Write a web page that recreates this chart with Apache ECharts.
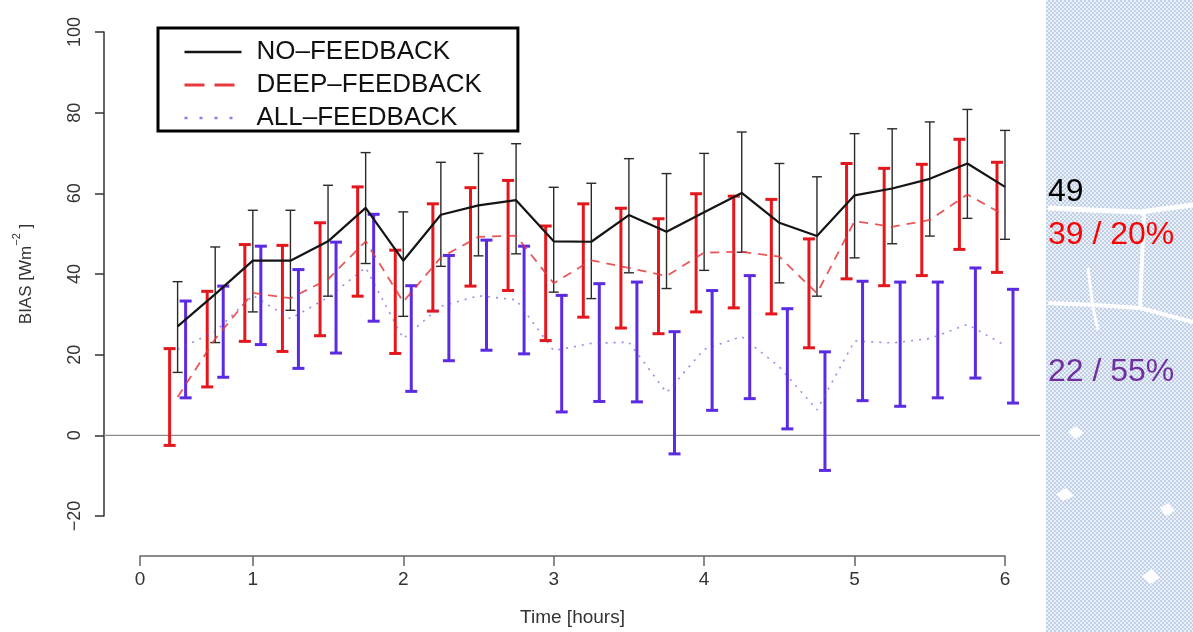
<!DOCTYPE html>
<html>
<head>
<meta charset="utf-8">
<script src="https://cdn.jsdelivr.net/npm/echarts@6/dist/echarts.min.js"></script>
<style>
  html, body { margin: 0; padding: 0; background: #fff; }
  #chart { width: 1193px; height: 632px; }
</style>
</head>
<body>
<div id="chart"></div>
<script>
// Forecast time (hours) of each verification step
const times = [0.5, 0.75, 1, 1.25, 1.5, 1.75, 2, 2.25, 2.5, 2.75, 3, 3.25, 3.5, 3.75, 4, 4.25, 4.5, 4.75, 5, 5.25, 5.5, 5.75, 6];

// NO-FEEDBACK: mean bias and spread
const noFeedbackMean = [27.0, 35.0, 43.3, 43.3, 48.1, 56.4, 43.3, 54.7, 57.0, 58.3, 48.1, 48.0, 54.6, 50.5, 55.3, 60.1, 52.7, 49.4, 59.5, 61.2, 63.6, 67.4, 61.6];
const noFeedbackLow  = [15.6, 23.0, 30.6, 31.0, 34.5, 42.6, 29.5, 41.9, 44.5, 45.0, 35.5, 33.9, 40.3, 36.4, 40.9, 45.4, 37.8, 34.5, 44.0, 47.5, 49.4, 53.8, 48.6];
const noFeedbackHigh = [38.1, 46.7, 55.8, 55.8, 62.0, 70.1, 55.4, 67.7, 69.9, 72.3, 61.5, 62.5, 68.6, 64.9, 69.9, 75.2, 67.4, 64.1, 74.8, 76.0, 77.7, 80.8, 75.6];

// DEEP-FEEDBACK
const deepMean = [9.5, 23.9, 35.3, 34.0, 38.7, 48.1, 33.1, 44.1, 49.2, 49.5, 37.7, 43.4, 41.5, 39.5, 45.3, 45.5, 44.3, 35.2, 53.1, 51.7, 53.4, 59.7, 54.5];
const deepLow  = [-2.5, 12.0, 23.3, 20.8, 24.7, 34.5, 20.3, 30.8, 37.0, 35.9, 23.5, 29.3, 26.6, 25.2, 30.6, 31.6, 30.1, 21.7, 38.8, 37.1, 39.6, 46.1, 40.4];
const deepHigh = [21.5, 35.7, 47.3, 47.1, 52.7, 61.6, 45.9, 57.4, 61.4, 63.2, 51.9, 57.4, 56.3, 53.7, 59.9, 59.3, 58.5, 48.7, 67.4, 66.2, 67.2, 73.4, 67.7];

// ALL-FEEDBACK
const allMean = [21.3, 25.7, 34.7, 28.9, 34.2, 41.6, 24.0, 32.0, 34.6, 33.6, 21.0, 22.8, 23.1, 10.6, 21.3, 24.5, 17.0, 6.3, 23.4, 22.9, 24.0, 27.5, 22.3];
const allLow  = [9.3, 14.4, 22.5, 16.6, 20.4, 28.3, 10.9, 18.5, 21.1, 20.2, 5.8, 8.4, 8.3, -4.6, 6.2, 9.1, 1.6, -8.7, 8.6, 7.2, 9.3, 14.2, 8.0];
const allHigh = [33.3, 37.0, 46.9, 41.1, 47.9, 54.8, 37.1, 44.6, 48.4, 46.9, 34.7, 37.6, 38.0, 25.7, 35.9, 39.6, 31.4, 20.7, 38.2, 38.0, 38.0, 41.5, 36.2];

// Axis ticks
const xTickPositions = [0.25, 1, 2, 3, 4, 5, 6];
const xTickLabels = ['0', '1', '2', '3', '4', '5', '6'];
const yTicks = [-20, 0, 20, 40, 60, 80, 100];

// Series names and side summary
const seriesNames = ['NO\u2013FEEDBACK', 'DEEP\u2013FEEDBACK', 'ALL\u2013FEEDBACK'];
const summaryTexts = ['49', '39 / 20%', '22 / 55%'];
const zeroLine = [[0, 0], [1, 0]];

const FONT = '"Liberation Sans", Arial, Helvetica, sans-serif';

function zip3(a, b, c) { return a.map((v, i) => [v, b[i], c[i]]); }
function zip2(a, b) { return a.map((v, i) => [v, b[i]]); }

// Vertical error bar with caps; dx shifts the bar sideways so the three sets don't overlap
function errorBar(color, width, cap, dx) {
  return function (params, api) {
    const x = api.value(0);
    const top = api.coord([x, api.value(2)]);
    const bot = api.coord([x, api.value(1)]);
    const px = top[0] + dx;
    const style = { stroke: color, lineWidth: width, fill: null };
    return {
      type: 'group',
      children: [
        { type: 'line', shape: { x1: px, y1: top[1], x2: px, y2: bot[1] }, style },
        { type: 'line', shape: { x1: px - cap, y1: top[1], x2: px + cap, y2: top[1] }, style },
        { type: 'line', shape: { x1: px - cap, y1: bot[1], x2: px + cap, y2: bot[1] }, style }
      ]
    };
  };
}

// Light blue dotted texture for the side panel
const pat = document.createElement('canvas');
pat.width = 4; pat.height = 4;
(function () {
  const c = pat.getContext('2d');
  c.fillStyle = '#ebf0f8';
  c.fillRect(0, 0, 4, 4);
  c.fillStyle = '#bfd0e7';
  c.fillRect(0, 0, 2, 2);
  c.fillRect(2, 2, 2, 2);
})();

const chart = echarts.init(document.getElementById('chart'), null, { renderer: 'canvas' });

const COLORS = { black: '#141414', red: '#e3171c', blue: '#5a2be2', purple: '#7030a0' };

const option = {
  animation: false,
  backgroundColor: '#ffffff',
  grid: [
    { left: 140, right: 188, top: 32, bottom: 116 },
    { left: 104, right: 153, top: 32, bottom: 116 }
  ],
  xAxis: [
    {
      type: 'value', gridIndex: 0, min: 0.25, max: 6, offset: 40,
      splitLine: { show: false },
      axisLine: { show: true, onZero: false, lineStyle: { color: '#666', width: 1.5 } },
      axisTick: { show: true, length: 10, customValues: xTickPositions, lineStyle: { color: '#666', width: 1.5 } },
      axisLabel: {
        customValues: xTickPositions, margin: 14, color: '#333', fontSize: 19, fontFamily: FONT,
        formatter: v => xTickLabels[xTickPositions.indexOf(v)]
      },
      name: 'Time [hours]', nameLocation: 'middle', nameGap: 52,
      nameTextStyle: { color: '#333', fontSize: 19, fontFamily: FONT }
    },
    { type: 'value', gridIndex: 1, min: 0, max: 1, show: false }
  ],
  yAxis: [
    {
      type: 'value', gridIndex: 0, min: -20, max: 100, interval: 20, offset: 36,
      splitLine: { show: false },
      axisLine: { show: true, onZero: false, lineStyle: { color: '#333', width: 1.5 } },
      axisTick: { show: true, length: 9, lineStyle: { color: '#333', width: 1.5 } },
      axisLabel: {
        rotate: 90, margin: 20, color: '#333', fontSize: 18, fontFamily: FONT,
        formatter: v => (yTicks.indexOf(v) >= 0 ? (v < 0 ? '\u2212' + Math.abs(v) : String(v)) : '')
      },
      name: '{n|BIAS [Wm}{s|\u22122}{n| ]}', nameLocation: 'middle', nameGap: 69,
      nameTextStyle: {
        color: '#333', fontFamily: FONT,
        rich: {
          n: { fontSize: 17, fontFamily: FONT, color: '#333', lineHeight: 24, verticalAlign: 'bottom' },
          s: { fontSize: 11, fontFamily: FONT, color: '#333', lineHeight: 24, verticalAlign: 'top' }
        }
      }
    },
    { type: 'value', gridIndex: 1, min: -20, max: 100, show: false }
  ],
  legend: {
    left: 158, top: 28, orient: 'vertical',
    padding: [11, 36, 0, 25], itemGap: 7, itemWidth: 57, itemHeight: 22,
    borderColor: '#000', borderWidth: 3, backgroundColor: '#fff',
    textStyle: { fontSize: 26, lineHeight: 24, color: '#111', fontFamily: FONT, padding: [0, 0, 0, 10] },
    data: [
      { name: seriesNames[0], itemStyle: { opacity: 0 }, lineStyle: { color: COLORS.black, width: 2.5, type: 'solid' } },
      { name: seriesNames[1], itemStyle: { opacity: 0 }, lineStyle: { color: COLORS.red, width: 3, type: [20, 10] } },
      { name: seriesNames[2], itemStyle: { opacity: 0 }, lineStyle: { color: COLORS.blue, width: 2.5, type: [3, 12] } }
    ]
  },
  graphic: [
    { type: 'rect', shape: { x: 1046, y: 0, width: 147, height: 632 }, style: { fill: { image: pat, repeat: 'repeat' } }, z: -10 },
    { type: 'polyline', shape: { points: [[1048, 208], [1090, 210], [1140, 212], [1193, 205]] }, style: { stroke: '#ffffff', lineWidth: 5, fill: null }, z: -9 },
    { type: 'polyline', shape: { points: [[1144, 212], [1142, 260], [1140, 308], [1193, 322]] }, style: { stroke: '#ffffff', lineWidth: 4, fill: null }, z: -9 },
    { type: 'polyline', shape: { points: [[1048, 303], [1095, 305], [1140, 308]] }, style: { stroke: '#ffffff', lineWidth: 4, fill: null }, z: -9 },
    { type: 'polyline', shape: { points: [[1088, 268], [1093, 308], [1098, 330]] }, style: { stroke: '#ffffff', lineWidth: 3, fill: null }, z: -9 },
    { type: 'polygon', shape: { points: [[1068, 432], [1076, 426], [1084, 433], [1075, 439]] }, style: { fill: '#ffffff' }, z: -9 },
    { type: 'polygon', shape: { points: [[1056, 494], [1066, 488], [1074, 496], [1063, 501]] }, style: { fill: '#ffffff' }, z: -9 },
    { type: 'polygon', shape: { points: [[1142, 576], [1152, 569], [1160, 578], [1150, 584]] }, style: { fill: '#ffffff' }, z: -9 },
    { type: 'polygon', shape: { points: [[1160, 508], [1168, 503], [1175, 511], [1166, 516]] }, style: { fill: '#ffffff' }, z: -9 },
    { type: 'text', left: 1048, top: 176, style: { text: summaryTexts[0], fill: '#000000', font: '32px ' + FONT }, z: 10 },
    { type: 'text', left: 1048, top: 219, style: { text: summaryTexts[1], fill: '#ff0000', font: '32px ' + FONT }, z: 10 },
    { type: 'text', left: 1048, top: 356, style: { text: summaryTexts[2], fill: COLORS.purple, font: '32px ' + FONT }, z: 10 }
  ],
  series: [
    {
      name: 'zero', type: 'line', xAxisIndex: 1, yAxisIndex: 1, data: zeroLine,
      symbol: 'none', silent: true, lineStyle: { color: '#8c8c8c', width: 1.3 }, z: 1
    },
    {
      name: 'no-bars', type: 'custom', data: zip3(times, noFeedbackLow, noFeedbackHigh),
      encode: { x: 0, y: [1, 2] }, renderItem: errorBar('#2a2a2a', 1.4, 5, 0), z: 2, clip: false
    },
    {
      name: 'deep-bars', type: 'custom', data: zip3(times, deepLow, deepHigh),
      encode: { x: 0, y: [1, 2] }, renderItem: errorBar(COLORS.red, 3, 6, -8), z: 3, clip: false
    },
    {
      name: 'all-bars', type: 'custom', data: zip3(times, allLow, allHigh),
      encode: { x: 0, y: [1, 2] }, renderItem: errorBar(COLORS.blue, 3, 6, 8), z: 4, clip: false
    },
    {
      name: seriesNames[0], type: 'line', data: zip2(times, noFeedbackMean), symbol: 'none',
      lineStyle: { color: COLORS.black, width: 2.2 }, itemStyle: { color: COLORS.black }, z: 6
    },
    {
      name: seriesNames[1], type: 'line', data: zip2(times, deepMean), symbol: 'none',
      lineStyle: { color: '#e5393d', width: 1.8, type: [9, 7], opacity: 0.85 }, itemStyle: { color: COLORS.red }, z: 6
    },
    {
      name: seriesNames[2], type: 'line', data: zip2(times, allMean), symbol: 'none',
      lineStyle: { color: '#6a4ad8', width: 1.6, type: [2, 6], opacity: 0.65 }, itemStyle: { color: COLORS.blue }, z: 6
    }
  ]
};

chart.setOption(option);
</script>
</body>
</html>
